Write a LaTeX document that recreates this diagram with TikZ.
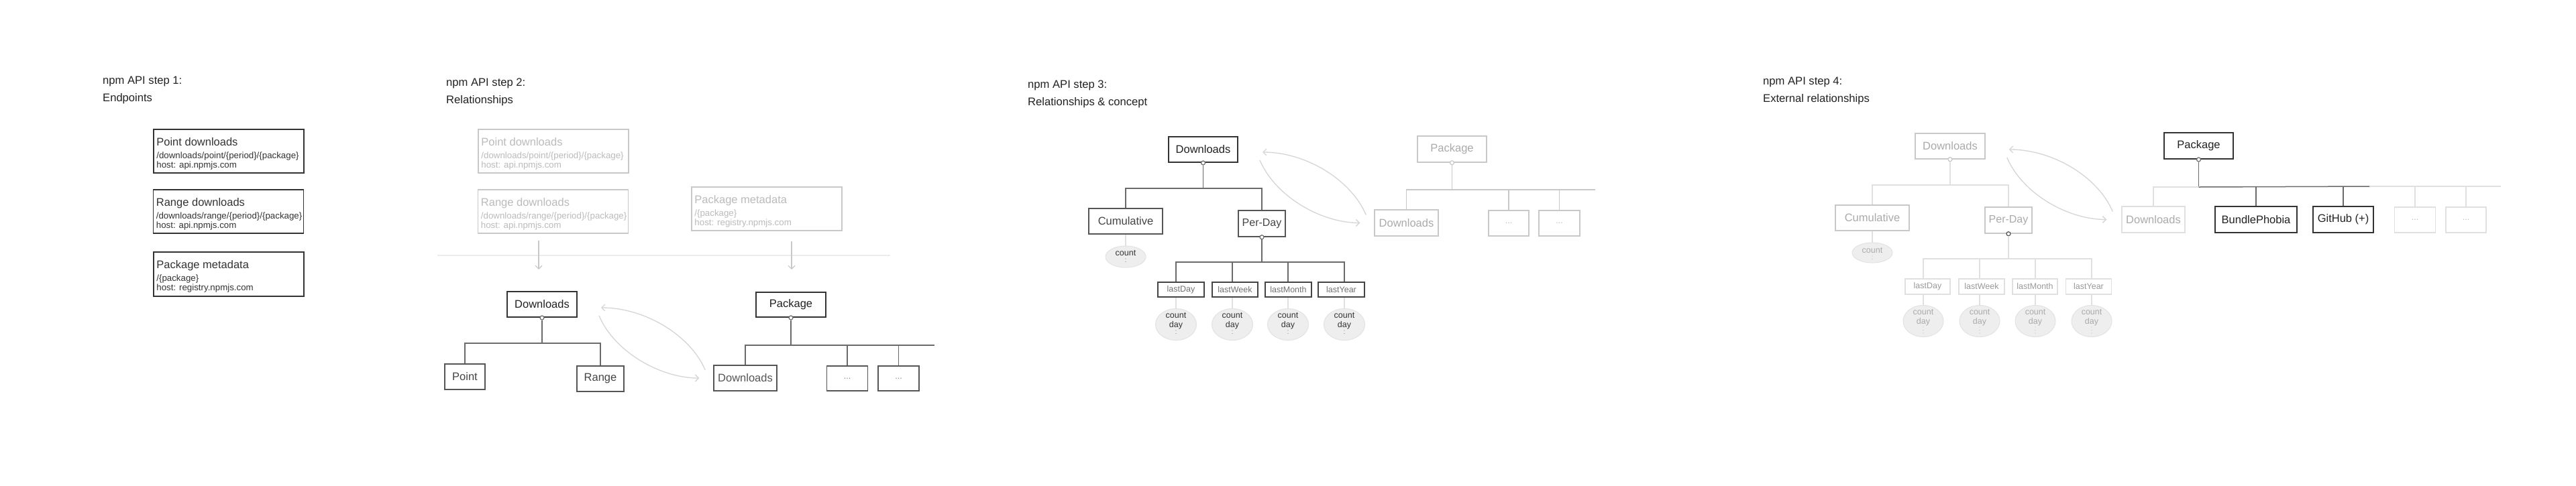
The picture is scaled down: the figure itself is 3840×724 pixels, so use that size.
\documentclass[tikz,border=0pt]{standalone}
\usepackage{fontspec}
\setmainfont{Liberation Sans}
\usetikzlibrary{arrows.meta,calc,shapes.geometric}
\newcommand\fttl{\fontsize{16.6pt}{20pt}\selectfont}
\newcommand\flab{\fontsize{16.5pt}{20pt}\selectfont}
\newcommand\fpd{\fontsize{16pt}{20pt}\selectfont}
\newcommand\fsub{\fontsize{13.3pt}{15pt}\selectfont}
\newcommand\fsm{\fontsize{12.5pt}{14pt}\selectfont}
\definecolor{ink}{HTML}{333333}
\definecolor{tcol}{HTML}{222222}
\definecolor{mid}{HTML}{555555}
\definecolor{ink2}{HTML}{444444}
\definecolor{treec}{HTML}{6A6A6A}
\definecolor{faint}{HTML}{C8C8C8}
\definecolor{gtext}{HTML}{AAAAAA}
\definecolor{gtext2}{HTML}{BBBBBB}
\definecolor{vfaint}{HTML}{E0E0E0}
\definecolor{sepc}{HTML}{ECECEC}
\definecolor{ellfill}{HTML}{EEEEEE}
\definecolor{ellline}{HTML}{E2E2E2}
\definecolor{dotc}{HTML}{888888}
\definecolor{arcc}{HTML}{D5D5D5}
\definecolor{stext}{HTML}{707070}
\definecolor{dotsg}{HTML}{999999}
\tikzset{
  ttl/.style={anchor=base west, inner sep=0pt, font=\fttl, text=tcol},
  epbox/.style={draw=ink, line width=1.6pt, inner sep=0pt, minimum width=224pt, minimum height=65pt},
  epboxg/.style={epbox, draw=faint, line width=1.5pt},
  eptitle/.style={anchor=base west, inner sep=0pt, font=\flab, text=ink},
  epsub/.style={anchor=base west, inner sep=0pt, font=\fsub, text=ink},
  eptitleg/.style={eptitle, text=gtext2},
  epsubg/.style={epsub, text=gtext2},
  bx/.style={draw=mid, line width=1.5pt, inner sep=0pt, font=\flab, text=ink2, minimum height=38pt},
  bxk/.style={bx, draw=ink, text=tcol, line width=2pt},
  bxg/.style={bx, draw=faint, text=gtext},
  bxgg/.style={bx, draw=vfaint, text=gtext},
  dotbox/.style={bx, font=\fsm, text=dotc},
  dotboxg/.style={bx, draw=faint, font=\fsm, text=gtext2},
  dotboxgg/.style={bx, draw=vfaint, font=\fsm, text=gtext2},
  sbx/.style={draw=ink2, line width=1.5pt, inner sep=0pt, font=\fsm, text=stext, minimum height=22pt},
  sbxg/.style={sbx, draw=vfaint, text=dotsg},
  circ/.style={circle, draw=treec, fill=white, line width=1.2pt, minimum size=6pt, inner sep=0pt},
  circg/.style={circ, draw=faint},
  tree/.style={draw=treec, line width=1.5pt},
  treeg/.style={draw=faint, line width=1.5pt},
  treegg/.style={draw=vfaint, line width=1.5pt},
  leaf/.style={draw=vfaint, line width=1.5pt},
  ell/.style={ellipse, draw=ellline, fill=ellfill, line width=1pt, inner sep=0pt},
  elltxt/.style={inner sep=0pt, font=\fsm, text=ink, align=center},
  elltxtg/.style={elltxt, text=gtext},
  vdots/.style={draw=dotc, line width=1.3pt, line cap=round, dash pattern=on 0pt off 4.5pt},
  vdotsg/.style={vdots, draw=gtext2},
  arc/.style={draw=arcc, line width=1.3pt, -{Straight Barb[length=5pt,width=10pt]}},
  garrow/.style={draw=faint, line width=1.2pt, -{Straight Barb[length=5pt,width=10pt]}},
  sepline/.style={draw=sepc, line width=1.2pt},
}
\begin{document}
\begin{tikzpicture}[x=1pt,y=-1pt]
\useasboundingbox (0,0) rectangle (3840,724);
\fill[white] (0,0) rectangle (3840,724);

% ---------------- titles
\node[ttl] (t1a) at (153,125) {npm API step 1:};
\node[ttl] (t1b) at (153,151) {Endpoints};
\node[ttl] (t2a) at (665,128) {npm API step 2:};
\node[ttl] (t2b) at (665,154) {Relationships};
\node[ttl] (t3a) at (1532,131) {npm API step 3:};
\node[ttl] (t3b) at (1532,157) {Relationships \& concept};
\node[ttl] (t4a) at (2628,126) {npm API step 4:};
\node[ttl] (t4b) at (2628,152) {External relationships};

% ---------------- step 1
\node[epbox] (ep1) at (341,225.5) {};
\node[eptitle] (ep1a) at ($(ep1.north west)+(5,25)$) {Point downloads};
\node[epsub] (ep1b) at ($(ep1.north west)+(5,44)$) {/downloads/point/\{period\}/\{package\}};
\node[epsub] (ep1c) at ($(ep1.north west)+(5,58)$) {host: api.npmjs.com};
\node[epbox] (ep2) at (340.5,315.5) {};
\node[eptitle] (ep2a) at ($(ep2.north west)+(5,25)$) {Range downloads};
\node[epsub] (ep2b) at ($(ep2.north west)+(5,44)$) {/downloads/range/\{period\}/\{package\}};
\node[epsub] (ep2c) at ($(ep2.north west)+(5,58)$) {host: api.npmjs.com};
\node[epbox, minimum height=66pt] (ep3) at (341,409) {};
\node[eptitle] (ep3a) at ($(ep3.north west)+(5,25)$) {Package metadata};
\node[epsub] (ep3b) at ($(ep3.north west)+(5,44)$) {/\{package\}};
\node[epsub] (ep3c) at ($(ep3.north west)+(5,58)$) {host: registry.npmjs.com};

% ---------------- step 2
\node[epboxg] (gp1) at (825,225.5) {};
\node[eptitleg] (gp1a) at ($(gp1.north west)+(5,25)$) {Point downloads};
\node[epsubg] (gp1b) at ($(gp1.north west)+(5,44)$) {/downloads/point/\{period\}/\{package\}};
\node[epsubg] (gp1c) at ($(gp1.north west)+(5,58)$) {host: api.npmjs.com};
\node[epboxg] (gp2) at (824.5,315.5) {};
\node[eptitleg] (gp2a) at ($(gp2.north west)+(5,25)$) {Range downloads};
\node[epsubg] (gp2b) at ($(gp2.north west)+(5,44)$) {/downloads/range/\{period\}/\{package\}};
\node[epsubg] (gp2c) at ($(gp2.north west)+(5,58)$) {host: api.npmjs.com};
\node[epboxg] (gp3) at (1143,311.5) {};
\node[eptitleg] (gp3a) at ($(gp3.north west)+(5,25)$) {Package metadata};
\node[epsubg] (gp3b) at ($(gp3.north west)+(5,44)$) {/\{package\}};
\node[epsubg] (gp3c) at ($(gp3.north west)+(5,58)$) {host: registry.npmjs.com};

\coordinate (sepl) at (652,381);
\coordinate (sepr) at (1327,381);
\draw[sepline] (sepl) -- (sepr);
\coordinate (a2s) at (803,359);
\coordinate (a2e) at (803,402);
\draw[garrow] (a2s) -- (a2e);
\coordinate (a3s) at (1180,360);
\coordinate (a3e) at (1180,402);
\draw[garrow] (a3s) -- (a3e);

\node[bxk, minimum width=104pt] (dl2) at (808,454) {Downloads};
\node[bx, minimum width=60pt] (pt2) at (693,562) {Point};
\node[bx, minimum width=70pt] (rg2) at (895,565) {Range};
\node[circ] (dl2c) at (dl2.south) {};
\draw[tree] (dl2c) -- ++(0,38) coordinate (dl2b);
\draw[tree] (pt2.north) |- (dl2b) -| (rg2.north);

\node[bxk, minimum width=104pt, minimum height=37pt] (pk2) at (1179,454.5) {Package};
\node[bx, minimum width=94pt, text=mid] (dlp2) at (1111,564) {Downloads};
\node[dotbox, minimum width=61pt, minimum height=37pt] (e2a) at (1263,564.5) {...};
\node[dotbox, minimum width=61pt, minimum height=37pt] (e2b) at (1339.5,564.5) {...};
\node[circ] (pk2c) at (pk2.south) {};
\draw[tree] (pk2c) -- ++(0,42) coordinate (pk2b);
\coordinate (pk2r) at (1393,515);
\draw[tree] (dlp2.north) |- (pk2r);
\draw[tree] (e2a.north) -- (e2a.north |- pk2b);
\draw[tree] (e2b.north) -- (e2b.north |- pk2b);

\draw[arc] ([xshift=-12pt,yshift=12pt]dlp2.west) .. controls +(-22,-52) and +(65,0) .. ([xshift=35pt,yshift=-5pt]dl2.east);
\draw[arc] ([xshift=32pt,yshift=-17pt]dl2.east) .. controls +(23,54) and +(-58,0) .. ([xshift=-21pt]dlp2.west);

% ---------------- step 3
\node[bxk, minimum width=103pt] (dl3) at (1793.5,223) {Downloads};
\node[bx, minimum width=110pt] (cum3) at (1678,330) {Cumulative};
\node[bx, minimum width=70pt, minimum height=39pt, font=\fpd] (pd3) at (1881,333.5) {Per-Day};
\node[circ] (dl3c) at (dl3.south) {};
\draw[tree] (dl3c) -- ++(0,38) coordinate (dl3b);
\draw[tree] (cum3.north) |- (dl3b) -| (pd3.north);

\node[ell, minimum width=60pt, minimum height=32pt] (c3) at (1678,383) {};
\node[elltxt] (c3t) at ($(c3.center)+(0,-5)$) {count};
\draw[vdots] ($(c3.center)+(0,3)$) -- ($(c3.center)+(0,12)$);
\draw[leaf] (cum3.south) -- (c3.north);

\node[sbx, minimum width=69pt] (ld3) at (1760.5,432) {lastDay};
\node[sbx, minimum width=68pt] (lw3) at (1841,432) {lastWeek};
\node[sbx, minimum width=69pt] (lm3) at (1920.5,432) {lastMonth};
\node[sbx, minimum width=69pt] (ly3) at (1999.5,432) {lastYear};
\node[ell, minimum width=61pt, minimum height=47pt] (c3a) at (1753,484) {};
\node[ell, minimum width=61pt, minimum height=47pt] (c3b) at (1837,484) {};
\node[ell, minimum width=61pt, minimum height=47pt] (c3c) at (1920,484) {};
\node[ell, minimum width=61pt, minimum height=47pt] (c3d) at (2004,484) {};
\foreach \e/\b in {c3a/ld3,c3b/lw3,c3c/lm3,c3d/ly3}{
  \node[elltxt] (\e t) at ($(\e.center)+(0,-5)$) {count\\day};
  \draw[vdots] ($(\e.center)+(0,9)$) -- ($(\e.center)+(0,18)$);
  \draw[leaf] (\e.north |- \b.south) -- (\e.north);
}
\node[circ] (pd3c) at (pd3.south) {};
\draw[tree] (pd3c) -- ++(0,37) coordinate (pd3b);
\draw[tree] (c3a.north |- ld3.north) |- (pd3b) -| (c3d.north |- ly3.north);
\draw[tree] (c3b.north |- lw3.north) -- (c3b.north |- pd3b);
\draw[tree] (c3c.north |- lm3.north) -- (c3c.north |- pd3b);

\node[bxg, minimum width=103pt, minimum height=39pt] (pk3) at (2164.5,222.5) {Package};
\node[bxg, minimum width=95pt, minimum height=39pt] (dlp3) at (2096.5,332.5) {Downloads};
\node[dotboxg, minimum width=60pt] (e3a) at (2249,333) {...};
\node[dotboxg, minimum width=61pt] (e3b) at (2324.5,333) {...};
\node[circg] (pk3c) at (pk3.south) {};
\draw[treeg] (pk3c) -- ++(0,41) coordinate (pk3b);
\coordinate (pk3r) at (2378,283);
\draw[treeg] (dlp3.north) |- (pk3r);
\draw[treeg] (e3a.north) -- (e3a.north |- pk3b);
\draw[treeg] (e3b.north) -- (e3b.north |- pk3b);

\draw[arc] ([xshift=-12pt,yshift=12pt]dlp3.west) .. controls +(-22,-52) and +(65,0) .. ([xshift=36pt,yshift=-4pt]dl3.east);
\draw[arc] ([xshift=32pt,yshift=-16pt]dl3.east) .. controls +(23,54) and +(-58,0) .. ([xshift=-21pt]dlp3.west);

% ---------------- step 4
\node[bxg, minimum width=104pt] (dl4) at (2907,218) {Downloads};
\node[bxg, minimum width=110pt] (cum4) at (2791,325) {Cumulative};
\node[bxg, minimum width=70pt, minimum height=39pt, font=\fpd] (pd4) at (2994,328.5) {Per-Day};
\node[circg] (dl4c) at (dl4.south) {};
\draw[treegg] (dl4c) -- ++(0,38) coordinate (dl4b);
\draw[treegg] (cum4.north) |- (dl4b) -| (pd4.north);

\node[ell, minimum width=60pt, minimum height=30pt] (c4) at (2791,377) {};
\node[elltxtg] (c4t) at ($(c4.center)+(0,-3)$) {count};
\draw[vdotsg] ($(c4.center)+(0,5)$) -- ($(c4.center)+(0,14)$);
\draw[leaf] (cum4.south) -- (c4.north);

\node[sbxg, minimum width=67pt, minimum height=23pt] (ld4) at (2873.5,427.5) {lastDay};
\node[sbxg, minimum width=68pt, minimum height=23pt] (lw4) at (2954,427.5) {lastWeek};
\node[sbxg, minimum width=67pt, minimum height=23pt] (lm4) at (3033.5,427.5) {lastMonth};
\node[sbxg, minimum width=68pt, minimum height=23pt] (ly4) at (3113.5,427.5) {lastYear};
\node[ell, minimum width=60pt, minimum height=47pt] (c4a) at (2867,479) {};
\node[ell, minimum width=60pt, minimum height=47pt] (c4b) at (2951,479) {};
\node[ell, minimum width=60pt, minimum height=47pt] (c4c) at (3034,479) {};
\node[ell, minimum width=60pt, minimum height=47pt] (c4d) at (3118,479) {};
\foreach \e/\b in {c4a/ld4,c4b/lw4,c4c/lm4,c4d/ly4}{
  \node[elltxtg] (\e t) at ($(\e.center)+(0,-5)$) {count\\day};
  \draw[vdotsg] ($(\e.center)+(0,9)$) -- ($(\e.center)+(0,18)$);
  \draw[leaf] (\e.north |- \b.south) -- (\e.north);
}
\node[circ, draw=mid] (pd4c) at (pd4.south) {};
\draw[treegg] (pd4c) -- ++(0,37) coordinate (pd4b);
\draw[treegg] (c4a.north |- ld4.north) |- (pd4b) -| (c4d.north |- ly4.north);
\draw[treegg] (c4b.north |- lw4.north) -- (c4b.north |- pd4b);
\draw[treegg] (c4c.north |- lm4.north) -- (c4c.north |- pd4b);

\node[bxk, minimum width=103pt, minimum height=39pt] (pk4) at (3277.5,217.5) {Package};
\node[bxgg, minimum width=94pt, minimum height=39pt] (dlp4) at (3210,327.5) {Downloads};
\node[bxk, minimum width=122pt, minimum height=39pt] (bp4) at (3363,327.5) {BundlePhobia};
\node[bxk, minimum width=90pt, minimum height=39pt] (gh4) at (3493,327.5) {GitHub (+)};
\node[dotboxgg, minimum width=61pt] (e4a) at (3600,328) {...};
\node[dotboxgg, minimum width=60pt] (e4b) at (3676,328) {...};
\node[circ] (pk4c) at (pk4.south) {};
\draw[tree] (pk4c) -- ++(0,41) coordinate (pk4b);
\coordinate (pk4m) at (3532,278);
\coordinate (pk4r) at (3728,278);
\draw[treegg] (dlp4.north) |- (pk4b);
\draw[treegg] (pk4m) -- (pk4r);
\draw[tree] (pk4b) -- (pk4m);
\draw[tree] (bp4.north) -- (bp4.north |- pk4b);
\draw[tree] (gh4.north) -- (gh4.north |- pk4b);
\draw[treegg] (e4a.north) -- (e4a.north |- pk4b);
\draw[treegg] (e4b.north) -- (e4b.north |- pk4b);

\draw[arc] ([xshift=-13pt,yshift=12pt]dlp4.west) .. controls +(-22,-52) and +(65,0) .. ([xshift=35pt,yshift=-5pt]dl4.east);
\draw[arc] ([xshift=32pt,yshift=-17pt]dl4.east) .. controls +(23,54) and +(-58,0) .. ([xshift=-22pt]dlp4.west);
\end{tikzpicture}
\end{document}
